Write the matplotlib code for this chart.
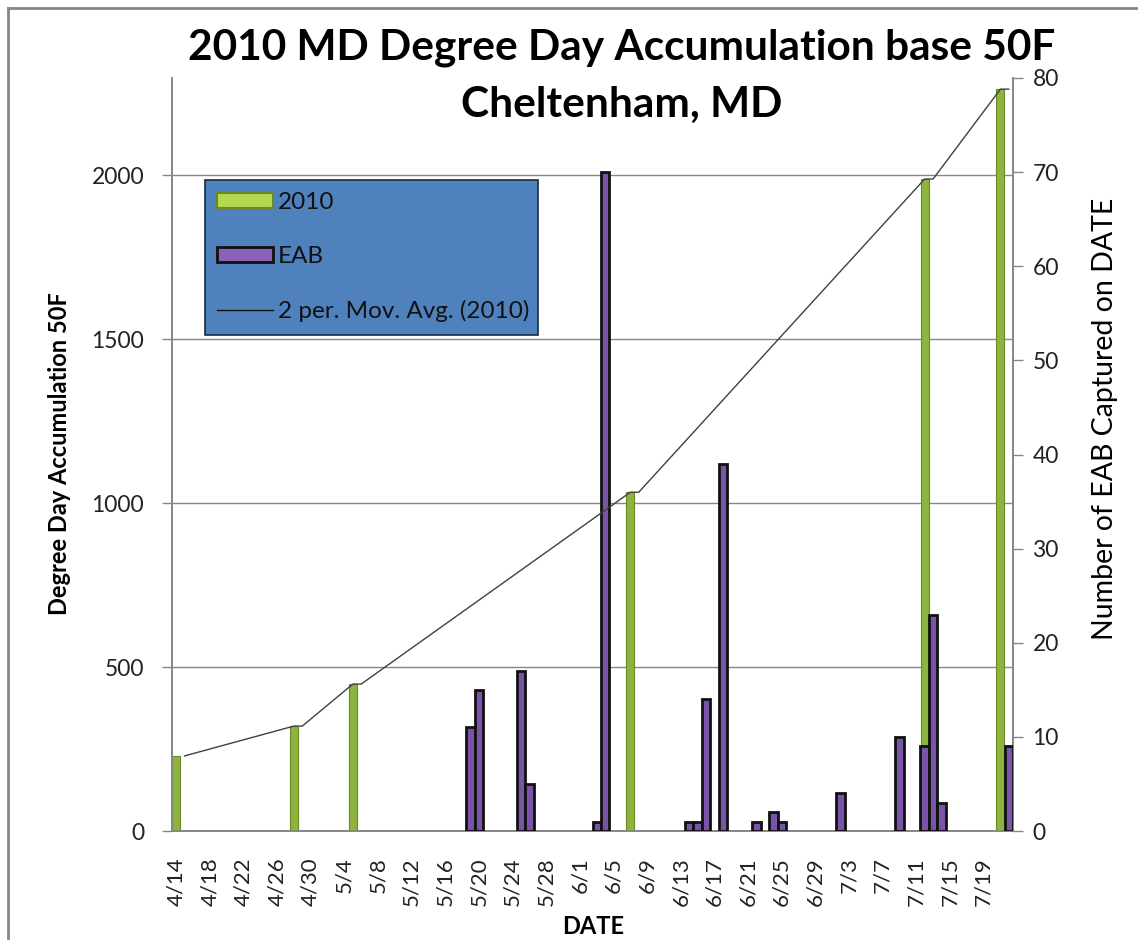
import matplotlib
matplotlib.use("Agg")
import matplotlib.pyplot as plt
from matplotlib.patches import Patch
from matplotlib.lines import Line2D
import pandas as pd

plt.rcParams['font.family'] = ['Lato', 'DejaVu Sans']

# ---------------- data ----------------
categories = [f"{d.month}/{d.day}" for d in pd.date_range("2010-04-14", "2010-07-22")]
tick_labels = ["4/14", "4/18", "4/22", "4/26", "4/30", "5/4", "5/8", "5/12", "5/16",
               "5/20", "5/24", "5/28", "6/1", "6/5", "6/9", "6/13", "6/17", "6/21",
               "6/25", "6/29", "7/3", "7/7", "7/11", "7/15", "7/19"]

dd_dates = ["4/14", "4/28", "5/5", "6/7", "7/12", "7/21"]
dd_values = [229, 320, 448, 1033, 1988, 2262]

eab_dates = ["5/19", "5/20", "5/25", "5/26", "6/3", "6/4", "6/14", "6/15", "6/16",
             "6/18", "6/22", "6/24", "6/25", "7/2", "7/9", "7/12", "7/13", "7/14", "7/22"]
eab_values = [11, 15, 17, 5, 1, 70, 1, 1, 14, 39, 1, 2, 1, 4, 10, 9, 23, 3, 9]

title_lines = ["2010 MD Degree Day Accumulation base 50F", "Cheltenham, MD"]

# ---------------- figure ----------------
W, H = 1138, 940
fig = plt.figure(figsize=(W / 100, H / 100), dpi=100)
fig.patch.set_facecolor("white")

L, R, T, B = 172, 1013, 78, 831
ax = fig.add_axes([L / W, 1 - B / H, (R - L) / W, (B - T) / H])
ax2 = ax.twinx()

idx = {c: i for i, c in enumerate(categories)}
dd_x = [idx[d] for d in dd_dates]
eab_x = [idx[d] for d in eab_dates]

green = "#8DB43C"
green_edge = "#6A8A2A"
purple = "#7A54A6"

ax.bar(dd_x, dd_values, width=0.95, color=green, edgecolor=green_edge,
       linewidth=0.8, zorder=3)
ax2.bar(eab_x, eab_values, width=1.0, color=purple, edgecolor="#111111",
        linewidth=2.0, zorder=3)

# moving-average style trend line through the degree-day series
line_x, line_y = [dd_x[0] + 1], [dd_values[0]]
for xv, yv in zip(dd_x[1:], dd_values[1:]):
    line_x += [xv, xv + 1]
    line_y += [yv, yv]
ax2.plot(line_x, line_y, color="#404040", lw=1.0, transform=ax.transData,
         zorder=5)

# axes limits / ticks
ax.set_xlim(-0.5, len(categories) - 0.5)
ax.set_ylim(0, 2296)
ax2.set_ylim(0, 80)
ax.set_yticks([0, 500, 1000, 1500, 2000])
ax2.set_yticks(range(0, 81, 10))
ax.set_xticks([idx[t] for t in tick_labels])
ax.set_xticklabels(tick_labels, rotation=90, fontsize=16, color="#222222")
ax.tick_params(axis="x", length=0, pad=19)
ax.tick_params(axis="y", direction="out", length=7, width=1, color="#868686",
               labelsize=16.5, labelcolor="#222222", pad=13)
ax2.tick_params(axis="y", direction="out", length=7, width=1, color="#868686",
                labelsize=16.5, labelcolor="#222222", pad=7)

ax.yaxis.grid(True, color="#868686", lw=1, zorder=0)
ax.set_axisbelow(True)
for a in (ax, ax2):
    a.spines["top"].set_visible(False)
    for s in ("left", "right", "bottom"):
        a.spines[s].set_color("#868686")
        a.spines[s].set_linewidth(1.2)
ax.patch.set_visible(False)
ax.set_zorder(0)
ax2.set_zorder(1)
ax2.patch.set_visible(False)

ax.set_xlabel("DATE", fontsize=17, fontweight="bold")
ax.set_ylabel("Degree Day Accumulation 50F", fontsize=17, fontweight="bold")
ax2.set_ylabel("Number of EAB Captured on DATE", fontsize=20.5)
ax.xaxis.set_label_coords((593 - L) / (R - L), -(915 - B) / (B - T))
ax.xaxis.label.set_va("top")
ax.yaxis.set_label_coords(-(L - 60) / (R - L), (B - 454) / (B - T))
ax.yaxis.label.set_va("center")
ax2.yaxis.set_label_coords((1105 - L) / (R - L), (B - 419) / (B - T))
ax2.yaxis.label.set_va("center")

fig.text(622 / W, 1 - 48 / H, title_lines[0], ha="center", va="center",
         fontsize=30.5, fontweight="bold")
fig.text(622 / W, 1 - 105 / H, title_lines[1], ha="center", va="center",
         fontsize=30.5, fontweight="bold")

# legend
handles = [Patch(facecolor="#B5D94E", edgecolor=green_edge, lw=1.5),
           Patch(facecolor="#8A62B8", edgecolor="#111111", lw=2),
           Line2D([], [], color="#111111", lw=1)]
labels = ["2010", "EAB", "2 per. Mov. Avg. (2010)"]
bx0 = (205 - L) / (R - L)
by1 = (B - 180) / (B - T)
bw = (538 - 205) / (R - L)
bh = (335 - 180) / (B - T)
leg = ax2.legend(handles, labels, loc="upper left",
                 bbox_to_anchor=(bx0, by1 - bh, bw, bh), mode="expand",
                 fontsize=17.5, frameon=True, fancybox=False, framealpha=1,
                 facecolor="#4F81BD", edgecolor="#1A2A40", borderaxespad=0,
                 borderpad=0.5, labelspacing=1.36, handlelength=2.3,
                 handleheight=0.55, handletextpad=0.2)
for t in leg.get_texts():
    t.set_color("#111111")
leg.get_frame().set_linewidth(1.2)
leg.set_zorder(10)

# outer frame (top and left edge visible)
fig.add_artist(Line2D([8 / W, 1], [1 - 8 / H, 1 - 8 / H], color="#868686",
                      lw=2, transform=fig.transFigure))
fig.add_artist(Line2D([8 / W, 8 / W], [0, 1 - 8 / H], color="#868686",
                      lw=2, transform=fig.transFigure))

fig.savefig("out.png", dpi=100)
